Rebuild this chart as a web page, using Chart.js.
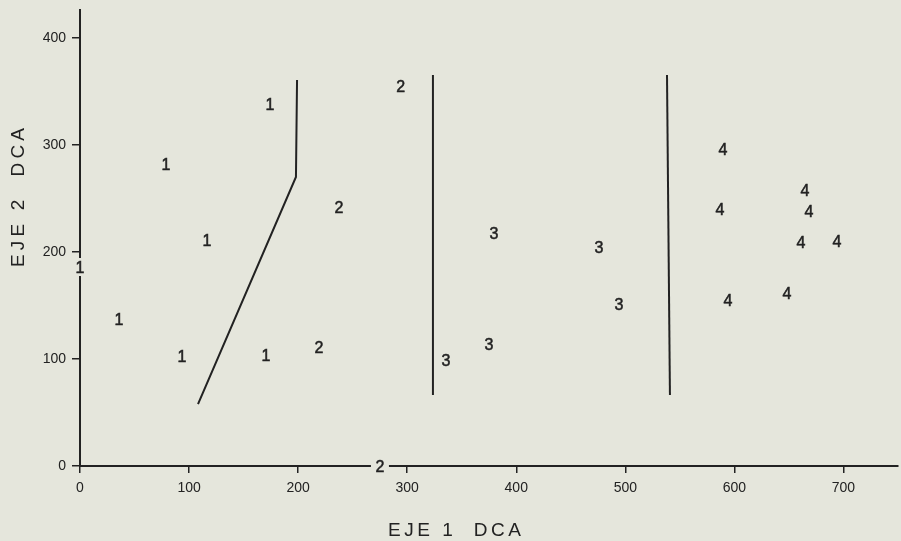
<!DOCTYPE html>
<html>
<head>
<meta charset="utf-8">
<script src="https://cdn.jsdelivr.net/npm/chart.js@4.4.1/dist/chart.umd.min.js"></script>
<style>
  html, body { margin: 0; padding: 0; background: #e5e6dc; }
  #wrap { width: 901px; height: 541px; }
</style>
</head>
<body>
<div id="wrap"><canvas id="c" width="901" height="541"></canvas></div>
<script>
// ---- data ----
const groupLabels = ['1', '2', '3', '4'];

const group1X = [174.2, 78.8, 116.4, 0, 35.8, 93.5, 170.5];
const group1Y = [338.2, 282.1, 211.1, 185.9, 137.3, 102.8, 103.7];

const group2X = [294, 237.5, 219.1, 275];
const group2Y = [354.4, 242, 111.2, 0];

const group3X = [335.6, 379.6, 375, 475.8, 494.2];
const group3Y = [99, 217.7, 114, 204.6, 151.3];

const group4X = [589.5, 586.8, 664.7, 668.4, 661, 694, 594.1, 648.2];
const group4Y = [296.2, 240.1, 257.8, 238.2, 209.3, 210.2, 155.1, 161.6];

// dividing lines
const lineAX = [108.2, 198, 199];
const lineAY = [57.9, 270, 360.6];
const lineBX = [323.6, 323.6];
const lineBY = [365.3, 66.3];
const lineCX = [538.2, 540.9];
const lineCY = [365.3, 66.3];

const xTicks = [0, 100, 200, 300, 400, 500, 600, 700];
const yTicks = [0, 100, 200, 300, 400];
const xTitle = 'EJE 1  DCA';
const yTitle = 'EJE 2  DCA';

// ---- styling ----
const ink = '#222222';
const bg = '#e5e6dc';

function pts(xs, ys) { return xs.map((x, i) => ({ x: x, y: ys[i] })); }

const groupXs = [group1X, group2X, group3X, group4X];
const groupYs = [group1Y, group2Y, group3Y, group4Y];

const datasets = [];
groupLabels.forEach((lab, g) => {
  datasets.push({
    label: 'Grupo ' + lab,
    markText: lab,
    data: pts(groupXs[g], groupYs[g]),
    pointRadius: 0,
    pointHoverRadius: 0,
    showLine: false
  });
});
[[lineAX, lineAY], [lineBX, lineBY], [lineCX, lineCY]].forEach((l, i) => {
  datasets.push({
    label: 'linea' + i,
    data: pts(l[0], l[1]),
    showLine: true,
    borderColor: ink,
    borderWidth: 2,
    pointRadius: 0,
    fill: false,
    tension: 0
  });
});

const bgPlugin = {
  id: 'bgfill',
  beforeDraw(chart) {
    const ctx = chart.ctx;
    ctx.save();
    ctx.fillStyle = bg;
    ctx.fillRect(0, 0, chart.width, chart.height);
    ctx.restore();
  }
};

function spacedText(ctx, text, x, y, target) {
  ctx.letterSpacing = '0px';
  const w0 = ctx.measureText(text).width;
  const sp = (target - w0) / (text.length - 1);
  ctx.letterSpacing = sp + 'px';
  ctx.fillText(text, x, y);
  ctx.letterSpacing = '0px';
}

const markPlugin = {
  id: 'marks',
  afterDatasetsDraw(chart) {
    const ctx = chart.ctx;
    ctx.save();
    ctx.font = '16px "Liberation Sans", Arial, sans-serif';
    ctx.textAlign = 'center';
    ctx.textBaseline = 'alphabetic';
    ctx.strokeStyle = ink;
    ctx.lineWidth = 0.5;
    chart.data.datasets.forEach((ds, i) => {
      if (!ds.markText) return;
      const meta = chart.getDatasetMeta(i);
      meta.data.forEach((el, j) => {
        const v = ds.data[j];
        if (v.x === 0 || v.y === 0) {
          ctx.fillStyle = bg;
          ctx.fillRect(el.x - 9, el.y - 9, 18, 18);
        }
        ctx.fillStyle = ink;
        ctx.fillText(ds.markText, el.x, el.y + 5.8);
        ctx.strokeText(ds.markText, el.x, el.y + 5.8);
      });
    });
    // axis titles
    ctx.font = '19px "Liberation Sans", Arial, sans-serif';
    ctx.textAlign = 'left';
    ctx.fillStyle = ink;
    spacedText(ctx, xTitle, 388, 536, 133);
    ctx.translate(24, 267);
    ctx.rotate(-Math.PI / 2);
    spacedText(ctx, yTitle, 0, 0, 139);
    ctx.restore();
  }
};

new Chart(document.getElementById('c'), {
  type: 'scatter',
  data: { datasets: datasets },
  options: {
    responsive: false,
    animation: false,
    events: [],
    layout: { padding: { top: 10, right: 3, left: 0, bottom: 0 } },
    plugins: { legend: { display: false }, tooltip: { enabled: false } },
    scales: {
      x: {
        type: 'linear',
        min: 0,
        max: 750,
        afterFit(s) { s.height = 75; s.paddingLeft = 0; s.paddingRight = 0; },
        afterBuildTicks(s) { s.ticks = xTicks.map(v => ({ value: v })); },
        border: { display: true, color: ink, width: 2 },
        grid: { display: true, drawOnChartArea: false, drawTicks: true, tickLength: 7, color: ink, lineWidth: 1.5 },
        ticks: { color: ink, padding: 7, font: { family: '"Liberation Sans", Arial, sans-serif', size: 14 } }
      },
      y: {
        type: 'linear',
        min: 0,
        max: 426,
        afterFit(s) { s.width = 80; s.paddingTop = 0; s.paddingBottom = 0; },
        afterBuildTicks(s) { s.ticks = yTicks.map(v => ({ value: v })); },
        border: { display: true, color: ink, width: 2 },
        grid: { display: true, drawOnChartArea: false, drawTicks: true, tickLength: 8, color: ink, lineWidth: 1.5 },
        ticks: { color: ink, padding: 6, font: { family: '"Liberation Sans", Arial, sans-serif', size: 14 } }
      }
    }
  },
  plugins: [bgPlugin, markPlugin]
});
</script>
</body>
</html>
